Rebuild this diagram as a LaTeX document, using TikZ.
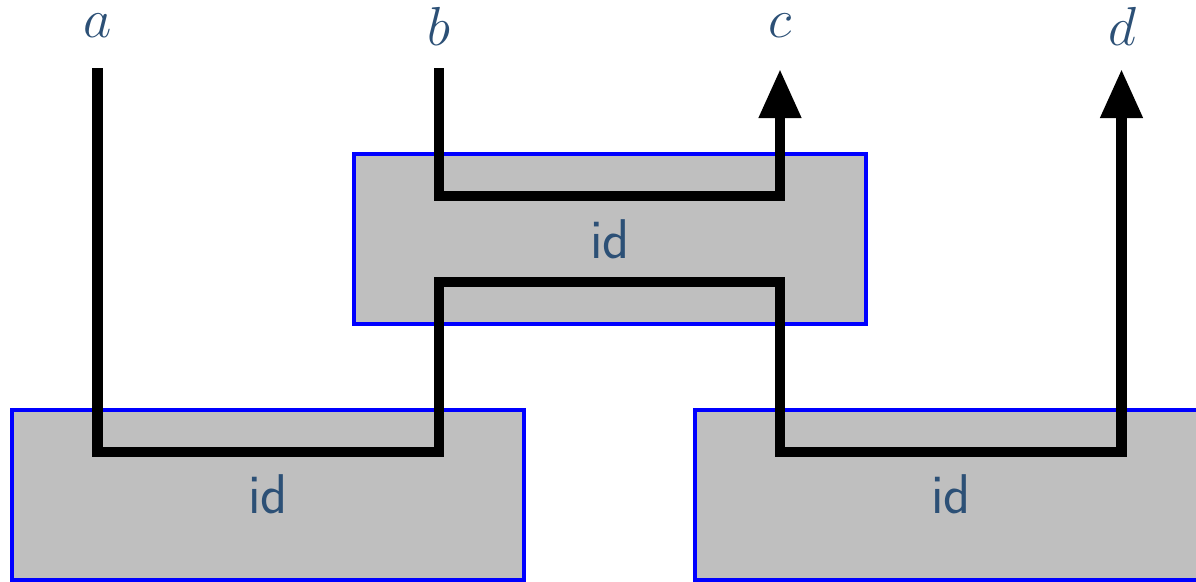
\documentclass[tikz,border=0pt]{standalone}
\usepackage{fontspec}
\usetikzlibrary{arrows.meta}
\definecolor{labelblue}{RGB}{44,80,118}
\definecolor{boxgray}{RGB}{191,191,191}
\tikzset{
  idbox/.style={draw=blue, line width=4pt, fill=boxgray, rectangle,
    minimum width=512pt, minimum height=170pt, inner sep=0pt,
    text=labelblue, font=\fontsize{56}{64}\selectfont\sffamily},
  wirelabel/.style={text=labelblue, font=\huge, scale=2.65, inner sep=0pt},
  wire/.style={line width=10.5pt, black, line join=miter},
  wirearrow/.style={wire, -{Triangle[length=49pt,width=40pt]}}
}
\begin{document}
\begin{tikzpicture}[x=1pt,y=-1pt]
\useasboundingbox (0,0) rectangle (1196,581);
\node[idbox] (boxL) at (268,494.5) {id};
\node[idbox] (boxR) at (951,494.5) {id};
\node[idbox] (boxM) at (610,239) {id};
\node[wirelabel] (la) at (97.5,25.5) {$a$};
\node[wirelabel] (lb) at (439,26.5) {$b$};
\node[wirelabel] (lc) at (780,25.5) {$c$};
\node[wirelabel] (ld) at (1122,26.5) {$d$};
\coordinate (sa) at (97.5,68);
\coordinate (sb) at (439,68);
\coordinate (ec) at (780,69);
\coordinate (ed) at (1121.5,69);
\draw[wirearrow] (sa) -- (97.5,452) -- (439,452) -- (439,282) -- (780,282) -- (780,452) -- (1121.5,452) -- (ed);
\draw[wirearrow] (sb) -- (439,196) -- (780,196) -- (ec);
\end{tikzpicture}
\end{document}
